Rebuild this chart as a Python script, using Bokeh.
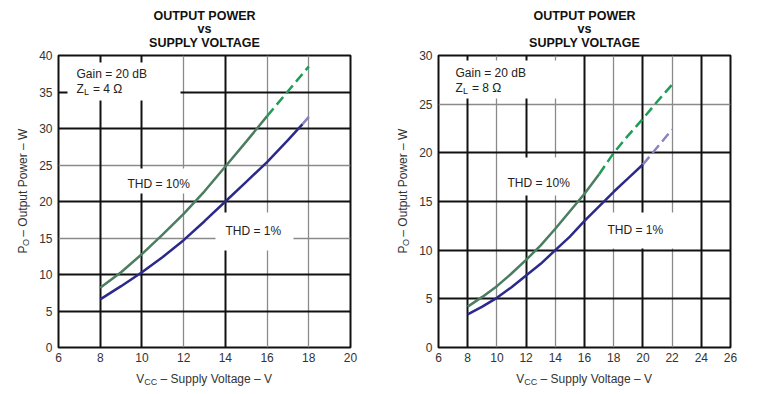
import math
from bokeh.plotting import figure
from bokeh.models import Range1d, Label, Grid, FixedTicker
from bokeh.layouts import row, column
from bokeh.embed import file_html
from bokeh.resources import INLINE

# ---------------- data ----------------
# Left chart: Gain = 20 dB, ZL = 4 ohm
vcc_4_thd10 = [8, 9, 10, 11, 12, 13, 14, 15, 16, 17, 18]
po_4_thd10 = [8.2, 10.3, 12.8, 15.5, 18.3, 21.4, 24.8, 28.2, 31.7, 35.1, 38.5]
dash_from_4_thd10 = 16          # extrapolated (dashed) beyond this Vcc

vcc_4_thd1 = [8, 9, 10, 11, 12, 13, 14, 15, 16, 17, 17.7, 18]
po_4_thd1 = [6.6, 8.4, 10.3, 12.4, 14.7, 17.3, 20.0, 22.7, 25.4, 28.4, 30.6, 31.6]
light_from_4_thd1 = 17.7        # lighter segment beyond this Vcc

# Right chart: Gain = 20 dB, ZL = 8 ohm
vcc_8_thd10 = [8, 9, 10, 11, 12, 13, 14, 15, 16, 17, 18, 19, 20, 21, 22]
po_8_thd10 = [4.2, 5.2, 6.3, 7.6, 9.0, 10.5, 12.2, 14.0, 15.8, 17.8, 20.0, 21.8, 23.5, 25.3, 27.0]
dash_from_8_thd10 = 17

vcc_8_thd1 = [8, 9, 10, 11, 12, 13, 14, 15, 16, 17, 18, 19, 20, 21, 22]
po_8_thd1 = [3.4, 4.2, 5.1, 6.2, 7.4, 8.6, 10.0, 11.4, 13.0, 14.5, 16.0, 17.4, 18.8, 20.6, 22.4]
dash_from_8_thd1 = 20

x_ticks_4 = [6, 8, 10, 12, 14, 16, 18, 20]
y_ticks_4 = [0, 5, 10, 15, 20, 25, 30, 35, 40]
x_ticks_8 = [6, 8, 10, 12, 14, 16, 18, 20, 22, 24, 26]
y_ticks_8 = [0, 5, 10, 15, 20, 25, 30]

title_lines = ["OUTPUT POWER", "vs", "SUPPLY VOLTAGE"]

# ---------------- styling ----------------
FONT = "Liberation Sans"
GREEN = "#4b7d60"
GREEN_DASH = "#1f9d55"
BLUE = "#2b2a8a"
PURPLE = "#8a82c4"
BLACK = "#111111"
GRAY = "#8a8a8a"
TXT = "#333333"
INK = "#222222"

FW, FH = 292, 292
TITLE_H, XLAB_H, YLAB_W = 48, 20, 34
CH_TOP, CH_BOTTOM, CH_LEFT = 7, 20, 24      # chart figure borders
FRAME_TOP = TITLE_H + CH_TOP                 # 55 page px
FRAME_BOTTOM = FRAME_TOP + FH                # 347 page px


def text_fig(w, h):
    f = figure(width=w, height=h, x_range=Range1d(0, w), y_range=Range1d(0, h),
               output_backend="svg", toolbar_location=None, min_border=0,
               x_axis_location=None, y_axis_location=None)
    f.outline_line_color = None
    f.grid.grid_line_color = None
    f.background_fill_color = "white"
    f.border_fill_color = "white"
    return f


def tlabel(f, x, y, text, size=12, bold=False, align="left", angle=0, color=TXT):
    # x, y: pixels from the top-left corner of the helper figure
    f.add_layout(Label(x=x, y=f.height - y, text=text, text_font=FONT,
                       text_font_size=f"{size}px",
                       text_font_style="bold" if bold else "normal",
                       text_align=align, text_baseline="middle",
                       angle=angle, text_color=color))


def chart_fig(xr, yr, xt, yt, border_right):
    p = figure(width=CH_LEFT + FW + border_right, height=CH_TOP + FH + CH_BOTTOM,
               frame_width=FW, frame_height=FH,
               x_range=Range1d(*xr), y_range=Range1d(*yr),
               output_backend="svg", toolbar_location=None,
               min_border_left=CH_LEFT, min_border_right=border_right,
               min_border_top=CH_TOP, min_border_bottom=CH_BOTTOM)
    p.background_fill_color = "white"
    p.border_fill_color = "white"
    p.outline_line_color = BLACK
    p.outline_line_width = 2
    p.xgrid.visible = False
    p.ygrid.visible = False
    for ax, ticks in ((p.xaxis, xt), (p.yaxis, yt)):
        ax.ticker = FixedTicker(ticks=ticks)
        ax.axis_line_color = None
        ax.major_tick_line_color = None
        ax.minor_tick_line_color = None
        ax.major_tick_out = 0
        ax.major_tick_in = 0
        ax.minor_tick_out = 0
        ax.major_label_text_font = FONT
        ax.major_label_text_font_size = "12px"
        ax.major_label_text_color = TXT
    p.xaxis.major_label_standoff = 5
    p.yaxis.major_label_standoff = 6
    return p


def grids(p, vb, vg, hb, hg):
    for dim, ticks, col, w in ((0, vg, GRAY, 1.3), (1, hg, GRAY, 1.3),
                               (0, vb, BLACK, 2), (1, hb, BLACK, 2)):
        p.add_layout(Grid(dimension=dim, ticker=FixedTicker(ticks=ticks),
                          grid_line_color=col, grid_line_width=w))


def flabel(p, L, px, py, text, size=12, color=INK):
    # screen units relative to the frame's bottom-left corner (page px given)
    p.add_layout(Label(x=px - L, y=FRAME_BOTTOM - py, x_units="screen", y_units="screen",
                       text=text, text_font=FONT, text_font_size=f"{size}px",
                       text_align="left", text_baseline="middle", text_color=color))


def box(p, L, xr, yr, x0, x1, y0, y1):
    fx = lambda px: xr[0] + (px - L) / FW * (xr[1] - xr[0])
    fy = lambda py: yr[1] - (py - FRAME_TOP) / FH * (yr[1] - yr[0])
    p.quad(left=fx(x0), right=fx(x1), top=fy(y0), bottom=fy(y1),
           fill_color="white", line_color=None)


def split(xs, ys, at):
    a = [(x, y) for x, y in zip(xs, ys) if x <= at]
    b = [(x, y) for x, y in zip(xs, ys) if x >= at]
    return [v[0] for v in a], [v[1] for v in a], [v[0] for v in b], [v[1] for v in b]


def in_plot_text(p, L, zl_text, gain_xy, thd10_xy, thd1_xy):
    gx, gy = gain_xy
    flabel(p, L, gx, gy, "Gain = 20 dB")
    flabel(p, L, gx, gy + 15, "Z")
    flabel(p, L, gx + 7.6, gy + 18, "L", size=9)
    flabel(p, L, gx + 16.5, gy + 15, zl_text)
    flabel(p, L, thd10_xy[0], thd10_xy[1], "THD = 10%")
    flabel(p, L, thd1_xy[0], thd1_xy[1], "THD = 1%")


def block(p, block_w, frame_cx_local):
    # title
    tf = text_fig(block_w, TITLE_H)
    for i, t in enumerate(title_lines):
        tlabel(tf, frame_cx_local, 15 + i * 13.5, t, size=12.5, bold=True,
               align="center", color="#111111")
    # y label (rotated, with subscript)
    yf = text_fig(YLAB_W, CH_TOP + FH + CH_BOTTOM)
    yc = (FRAME_TOP + FRAME_BOTTOM) / 2 - TITLE_H
    y0 = yc + 63.2
    a = math.pi / 2
    tlabel(yf, 22, y0, "P", angle=a)
    tlabel(yf, 25, y0 - 8.0, "O", size=9, angle=a)
    tlabel(yf, 22, y0 - 18.3, "\u2013 Output Power \u2013 W", angle=a)
    # x label with subscript
    xf = text_fig(block_w, XLAB_H)
    x0 = frame_cx_local - 136.4 / 2
    tlabel(xf, x0, 11, "V")
    tlabel(xf, x0 + 8.0, 14, "CC", size=9)
    tlabel(xf, x0 + 24.3, 11, "\u2013 Supply Voltage \u2013 V")
    return column(tf, row(yf, p), xf)


# ---------------- left chart ----------------
XR1, YR1 = (6, 20), (0, 40)
L1 = YLAB_W + CH_LEFT                       # 58 page px
p1 = chart_fig(XR1, YR1, x_ticks_4, y_ticks_4, 30)
grids(p1, [8, 10, 14], [12, 16, 18], [5, 10, 20, 30, 35], [15, 25])
box(p1, L1, XR1, YR1, 67, 180, 62, 100)
box(p1, L1, XR1, YR1, 120, 196, 168, 193)
box(p1, L1, XR1, YR1, 215, 293, 212, 250)

sx, sy, dx, dy = split(vcc_4_thd10, po_4_thd10, dash_from_4_thd10)
p1.line(sx, sy, line_color=GREEN, line_width=2.5)
p1.line(dx, dy, line_color=GREEN_DASH, line_width=2.5, line_dash="10 5")
sx, sy, dx, dy = split(vcc_4_thd1, po_4_thd1, light_from_4_thd1)
p1.line(sx, sy, line_color=BLUE, line_width=2.5)
p1.line(dx, dy, line_color=PURPLE, line_width=2.5)
in_plot_text(p1, L1, "= 4 \u03a9", (76, 73), (127, 183), (225, 230))
left_w = YLAB_W + CH_LEFT + FW + 30         # 380
left_block = block(p1, left_w, L1 + FW / 2)

# ---------------- right chart ----------------
XR2, YR2 = (6, 26), (0, 30)
L2 = left_w + YLAB_W + CH_LEFT              # 438 page px
p2 = chart_fig(XR2, YR2, x_ticks_8, y_ticks_8, 20)
grids(p2, [8, 12, 16, 20, 24], [10, 14, 18, 22], [5, 10, 15, 20], [25])
box(p2, L2, XR2, YR2, 445, 560, 60, 98)
box(p2, L2, XR2, YR2, 500, 575, 157, 195)
box(p2, L2, XR2, YR2, 598, 678, 212, 248)

sx, sy, dx, dy = split(vcc_8_thd10, po_8_thd10, dash_from_8_thd10)
p2.line(sx, sy, line_color=GREEN, line_width=2.5)
p2.line(dx, dy, line_color=GREEN_DASH, line_width=2.5, line_dash="10 5")
sx, sy, dx, dy = split(vcc_8_thd1, po_8_thd1, dash_from_8_thd1)
p2.line(sx, sy, line_color=BLUE, line_width=2.5)
p2.line(dx, dy, line_color=PURPLE, line_width=2.5, line_dash="10 5")
in_plot_text(p2, L2, "= 8 \u03a9", (455, 72), (507, 182), (607, 229))
right_w = YLAB_W + CH_LEFT + FW + 20        # 370
right_block = block(p2, right_w, YLAB_W + CH_LEFT + FW / 2)

layout = row(left_block, right_block)
open("out.html", "w").write(file_html(layout, INLINE))
